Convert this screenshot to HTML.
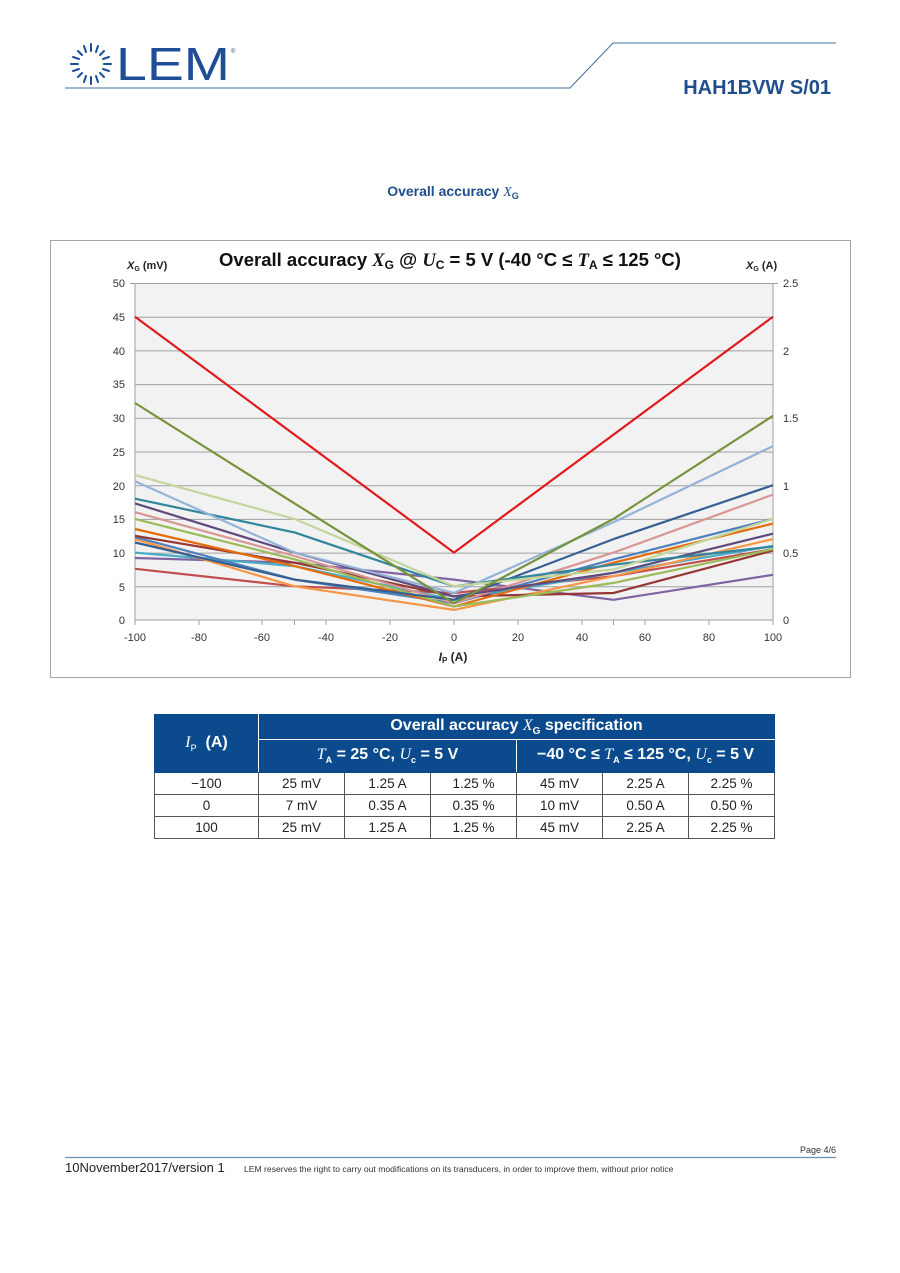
<!DOCTYPE html>
<html><head><meta charset="utf-8"><style>
body{margin:0;background:#fff;font-family:"Liberation Sans",sans-serif}
.pg{position:relative;width:900px;height:1273px;overflow:hidden}
table{border-collapse:collapse;position:absolute;left:154px;top:714px;width:620px;table-layout:fixed;font-size:13.5px;color:#222}
td{border:1px solid #555;text-align:center;height:21px;padding:0}
.h td{background:#0b4a8c;color:#fff;font-weight:bold;font-size:16px;border-color:#0b4a8c}
i.s{font-family:"Liberation Serif",serif;font-weight:normal}
</style></head><body><div class="pg">
<svg width="900" height="1273" style="position:absolute;left:0;top:0" font-family="Liberation Sans, sans-serif">
<g stroke="#1f4e96" stroke-width="2" stroke-linecap="round">
<line x1="91" y1="44" x2="91" y2="51"/><line x1="91" y1="77" x2="91" y2="84"/>
<line x1="71" y1="64" x2="78" y2="64"/><line x1="104" y1="64" x2="111" y2="64"/>
<line x1="98" y1="46" x2="96" y2="52"/><line x1="84" y1="46" x2="86" y2="52"/>
<line x1="104" y1="51" x2="100" y2="55"/><line x1="78" y1="51" x2="82" y2="55"/>
<line x1="109" y1="57" x2="103" y2="59"/><line x1="73" y1="57" x2="79" y2="59"/>
<line x1="109" y1="71" x2="103" y2="69"/><line x1="73" y1="71" x2="79" y2="69"/>
<line x1="104" y1="77" x2="100" y2="73"/><line x1="78" y1="77" x2="82" y2="73"/>
<line x1="98" y1="82" x2="96" y2="76"/><line x1="84" y1="82" x2="86" y2="76"/>
</g>
<text x="116" y="80" font-size="46" fill="#1f4e96" textLength="114" lengthAdjust="spacingAndGlyphs">LEM</text>
<text x="231" y="53" font-size="6" fill="#1f4e96">®</text>
<polyline points="65,88 570,88 613,43 836,43" fill="none" stroke="#3f6e9a" stroke-width="1"/>
<text x="831" y="94" font-size="20" font-weight="bold" fill="#1f4e8c" text-anchor="end">HAH1BVW S/01</text>
<text x="453" y="196" font-size="14" font-weight="bold" fill="#1f4e8c" text-anchor="middle">Overall accuracy <tspan font-family="Liberation Serif, serif" font-style="italic" font-weight="normal">X</tspan><tspan font-size="9" dy="3">G</tspan></text>
<rect x="50.5" y="240.5" width="800" height="437" fill="#fff" stroke="#a6a6a6"/>
<rect x="135" y="283" width="638" height="337" fill="#f2f2f2"/>
<g stroke="#a0a0a0" stroke-width="1">
<line x1="135" y1="283.5" x2="773" y2="283.5"/><line x1="135" y1="317.2" x2="773" y2="317.2"/><line x1="135" y1="350.9" x2="773" y2="350.9"/><line x1="135" y1="384.6" x2="773" y2="384.6"/><line x1="135" y1="418.3" x2="773" y2="418.3"/><line x1="135" y1="452" x2="773" y2="452"/><line x1="135" y1="485.7" x2="773" y2="485.7"/><line x1="135" y1="519.4" x2="773" y2="519.4"/><line x1="135" y1="553.1" x2="773" y2="553.1"/><line x1="135" y1="586.8" x2="773" y2="586.8"/><line x1="135" y1="620" x2="773" y2="620"/>
<line x1="135" y1="283" x2="135" y2="620"/><line x1="773" y1="283" x2="773" y2="620"/>
<line x1="130" y1="283.5" x2="135" y2="283.5"/><line x1="773" y1="283.5" x2="778" y2="283.5"/>
<line x1="135" y1="620" x2="135" y2="625"/><line x1="294.5" y1="620" x2="294.5" y2="625"/><line x1="454" y1="620" x2="454" y2="625"/><line x1="613.5" y1="620" x2="613.5" y2="625"/><line x1="773" y1="620" x2="773" y2="625"/>
<line x1="199" y1="620" x2="199" y2="625"/><line x1="262" y1="620" x2="262" y2="625"/><line x1="326" y1="620" x2="326" y2="625"/><line x1="390" y1="620" x2="390" y2="625"/><line x1="518" y1="620" x2="518" y2="625"/><line x1="582" y1="620" x2="582" y2="625"/><line x1="645" y1="620" x2="645" y2="625"/><line x1="709" y1="620" x2="709" y2="625"/>
</g>
<g font-size="11" fill="#333" text-anchor="end">
<text x="125" y="287">50</text><text x="125" y="321">45</text><text x="125" y="355">40</text><text x="125" y="388">35</text><text x="125" y="422">30</text><text x="125" y="456">25</text><text x="125" y="490">20</text><text x="125" y="523">15</text><text x="125" y="557">10</text><text x="125" y="591">5</text><text x="125" y="624">0</text>
</g>
<g font-size="11" fill="#333">
<text x="783" y="287">2.5</text><text x="783" y="355">2</text><text x="783" y="422">1.5</text><text x="783" y="490">1</text><text x="783" y="557">0.5</text><text x="783" y="624">0</text>
</g>
<g font-size="11" fill="#333" text-anchor="middle">
<text x="135" y="641">-100</text><text x="199" y="641">-80</text><text x="262" y="641">-60</text><text x="326" y="641">-40</text><text x="390" y="641">-20</text><text x="454" y="641">0</text><text x="518" y="641">20</text><text x="582" y="641">40</text><text x="645" y="641">60</text><text x="709" y="641">80</text><text x="773" y="641">100</text>
</g>
<text x="453" y="661" font-size="12" font-weight="bold" fill="#222" text-anchor="middle"><tspan font-style="italic">I</tspan><tspan font-size="8" dy="2">P</tspan><tspan dy="-2"> (A)</tspan></text>
<text x="127" y="269" font-size="11" font-weight="bold" fill="#222"><tspan font-style="italic">X</tspan><tspan font-size="7" dy="2">G</tspan><tspan dy="-2"> (mV)</tspan></text>
<text x="746" y="269" font-size="11" font-weight="bold" fill="#222"><tspan font-style="italic">X</tspan><tspan font-size="7" dy="2">G</tspan><tspan dy="-2"> (A)</tspan></text>
<text x="450" y="266" font-size="18.5" font-weight="bold" fill="#111" text-anchor="middle">Overall accuracy <tspan font-family="Liberation Serif, serif" font-style="italic">X</tspan><tspan font-size="12" dy="3">G</tspan><tspan dy="-3"> @ </tspan><tspan font-family="Liberation Serif, serif" font-style="italic">U</tspan><tspan font-size="12" dy="3">C</tspan><tspan dy="-3"> = 5 V (-40 °C ≤ </tspan><tspan font-family="Liberation Serif, serif" font-style="italic">T</tspan><tspan font-size="12" dy="3">A</tspan><tspan dy="-3"> ≤ 125 °C)</tspan></text>
<g fill="none" stroke-width="2.2" stroke-linejoin="round">
<polyline stroke="#c0504d" points="135,568.8 294.5,586.3 454,593 613.5,576.2 773,549.2"/>
<polyline stroke="#8064a2" points="135,558 294.5,562.7 454,579.6 613.5,599.8 773,574.8"/>
<polyline stroke="#4bacc6" points="135,552.6 294.5,566.1 454,599.8 613.5,572.8 773,545.9"/>
<polyline stroke="#f79646" points="135,539.1 294.5,586.3 454,609.9 613.5,576.2 773,539.1"/>
<polyline stroke="#4f81bd" points="135,537.1 294.5,579.6 454,603.2 613.5,559.3 773,518.9"/>
<polyline stroke="#953735" points="135,535.8 294.5,562.7 454,596.4 613.5,593 773,550.6"/>
<polyline stroke="#e46c0a" points="135,529 294.5,566.1 454,606.5 613.5,562.7 773,523.6"/>
<polyline stroke="#9bbb59" points="135,518.9 294.5,559.3 454,606.5 613.5,582.9 773,549.2"/>
<polyline stroke="#d99694" points="135,512.2 294.5,556 454,603.2 613.5,552.6 773,494.6"/>
<polyline stroke="#604a7b" points="135,503.4 294.5,552.6 454,596.4 613.5,572.8 773,533.7"/>
<polyline stroke="#376092" points="135,542.5 294.5,579.6 454,599.8 613.5,539.1 773,485.2"/>
<polyline stroke="#31859c" points="135,498.7 294.5,532.4 454,586.3 613.5,564.7 773,546.5"/>
<polyline stroke="#95b3d7" points="135,481.2 294.5,552.6 454,593 613.5,522.3 773,446.1"/>
<polyline stroke="#c3d69b" points="135,475.1 294.5,518.9 454,586.3 613.5,569.5 773,518.9"/>
<polyline stroke="#77933c" points="135,403 294.5,503.4 454,603.2 613.5,518.9 773,415.8"/>
<polyline stroke="#e31a1c" points="135,316.7 454,552.6 773,316.7"/>
</g>
<line x1="65" y1="1157.5" x2="836" y2="1157.5" stroke="#6a8fb0" stroke-width="1.2"/>
<text x="836" y="1153" font-size="9" fill="#333" text-anchor="end">Page 4/6</text>
<text x="65" y="1172" font-size="13" fill="#222">10November2017/version 1</text>
<text x="244" y="1172" font-size="8.6" fill="#333">LEM reserves the right to carry out modifications on its transducers, in order to improve them, without prior notice</text>
</svg>
<table>
<colgroup><col style="width:104px"><col style="width:86px"><col style="width:86px"><col style="width:86px"><col style="width:86px"><col style="width:86px"><col style="width:86px"></colgroup>
<tr class="h" style="height:25px"><td rowspan="2" style="border-right-color:#fff"><i class="s">I</i><sub style="font-size:9px;font-weight:normal">P</sub>&nbsp; (A)</td><td colspan="6" style="border-bottom-color:#fff">Overall accuracy <i class="s">X</i><sub style="font-size:10px">G</sub> specification</td></tr>
<tr class="h" style="height:33px"><td colspan="3" style="border-right-color:#fff"><i class="s">T</i><sub style="font-size:9px">A</sub> = 25 °C, <i class="s">U</i><sub style="font-size:9px">c</sub> = 5 V</td><td colspan="3">−40 °C ≤ <i class="s">T</i><sub style="font-size:9px">A</sub> ≤ 125 °C, <i class="s">U</i><sub style="font-size:9px">c</sub> = 5 V</td></tr>
<tr><td>−100</td><td>25 mV</td><td>1.25 A</td><td>1.25 %</td><td>45 mV</td><td>2.25 A</td><td>2.25 %</td></tr>
<tr><td>0</td><td>7 mV</td><td>0.35 A</td><td>0.35 %</td><td>10 mV</td><td>0.50 A</td><td>0.50 %</td></tr>
<tr><td>100</td><td>25 mV</td><td>1.25 A</td><td>1.25 %</td><td>45 mV</td><td>2.25 A</td><td>2.25 %</td></tr>
</table>
</div></body></html>
